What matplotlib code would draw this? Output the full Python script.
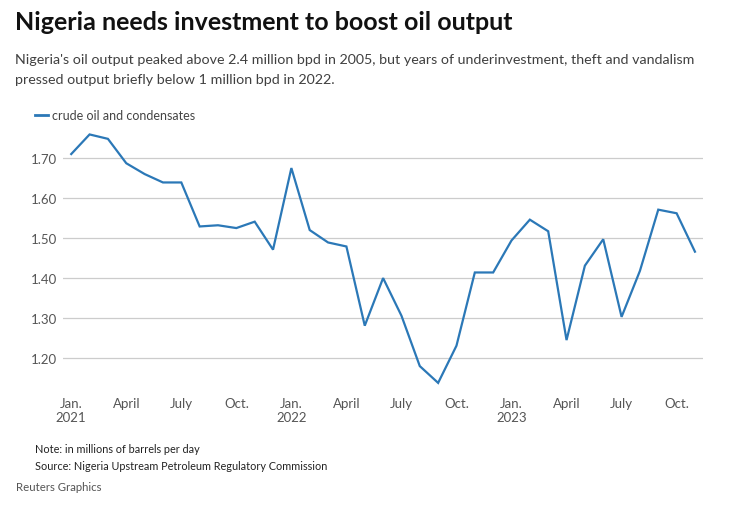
import matplotlib.pyplot as plt
import numpy as np

plt.rcParams['font.family'] = ['Lato', 'DejaVu Sans']

# monthly output, Jan 2021 .. Nov 2023, million bpd
months = np.arange(35)
output = [1.710, 1.759, 1.748, 1.687, 1.660, 1.639, 1.639, 1.529, 1.532, 1.525, 1.541, 1.471,
          1.675, 1.520, 1.489, 1.479, 1.281, 1.400, 1.306, 1.180, 1.138, 1.231, 1.414, 1.414,
          1.494, 1.546, 1.517, 1.245, 1.431, 1.497, 1.303, 1.418, 1.571, 1.562, 1.466]

tick_pos = [0, 3, 6, 9, 12, 15, 18, 21, 24, 27, 30, 33]
tick_lab = ['Jan.\n2021', 'April', 'July', 'Oct.', 'Jan.\n2022', 'April', 'July', 'Oct.',
            'Jan.\n2023', 'April', 'July', 'Oct.']
yticks = [1.2, 1.3, 1.4, 1.5, 1.6, 1.7]

fig = plt.figure(figsize=(7.41, 5.06), dpi=100)
ax = fig.add_axes([0.085, 0.233, 0.864, 0.51])

ax.plot(months, output, color='#2b78b7', lw=1.6, solid_joinstyle='miter')
ax.set_xlim(-0.45, 34.45)
ax.set_ylim(1.1275, 1.7725)
ax.set_yticks(yticks)
ax.set_yticklabels(['%.2f' % v for v in yticks])
ax.set_xticks(tick_pos)
ax.set_xticklabels(tick_lab)
ax.grid(axis='y', color='#cccccc', lw=0.9)
ax.set_axisbelow(True)
for s in ax.spines.values():
    s.set_visible(False)
ax.tick_params(length=0, labelsize=9.5, labelcolor='#555555')
ax.tick_params(axis='y', pad=4)
ax.tick_params(axis='x', pad=7)

# text
fig.text(0.02, 0.955, 'Nigeria needs investment to boost oil output', fontsize=18,
         fontweight='bold', color='#111111', va='center')
fig.text(0.02, 0.882, "Nigeria's oil output peaked above 2.4 million bpd in 2005, but years of "
         "underinvestment, theft and vandalism", fontsize=10.3, color='#404040', va='center')
fig.text(0.02, 0.842, 'pressed output briefly below 1 million bpd in 2022.', fontsize=10.3,
         color='#404040', va='center')
fig.lines.append(plt.Line2D([0.047, 0.065], [0.771, 0.771], transform=fig.transFigure,
                            color='#2b78b7', lw=2))
fig.text(0.070, 0.771, 'crude oil and condensates', fontsize=9, color='#444444', va='center')
fig.text(0.047, 0.112, 'Note: in millions of barrels per day', fontsize=7.8, color='#222222', va='center')
fig.text(0.047, 0.079, 'Source: Nigeria Upstream Petroleum Regulatory Commission', fontsize=7.8,
         color='#222222', va='center')
fig.text(0.022, 0.036, 'Reuters Graphics', fontsize=8.2, color='#555555', va='center')

plt.savefig('out.png')
